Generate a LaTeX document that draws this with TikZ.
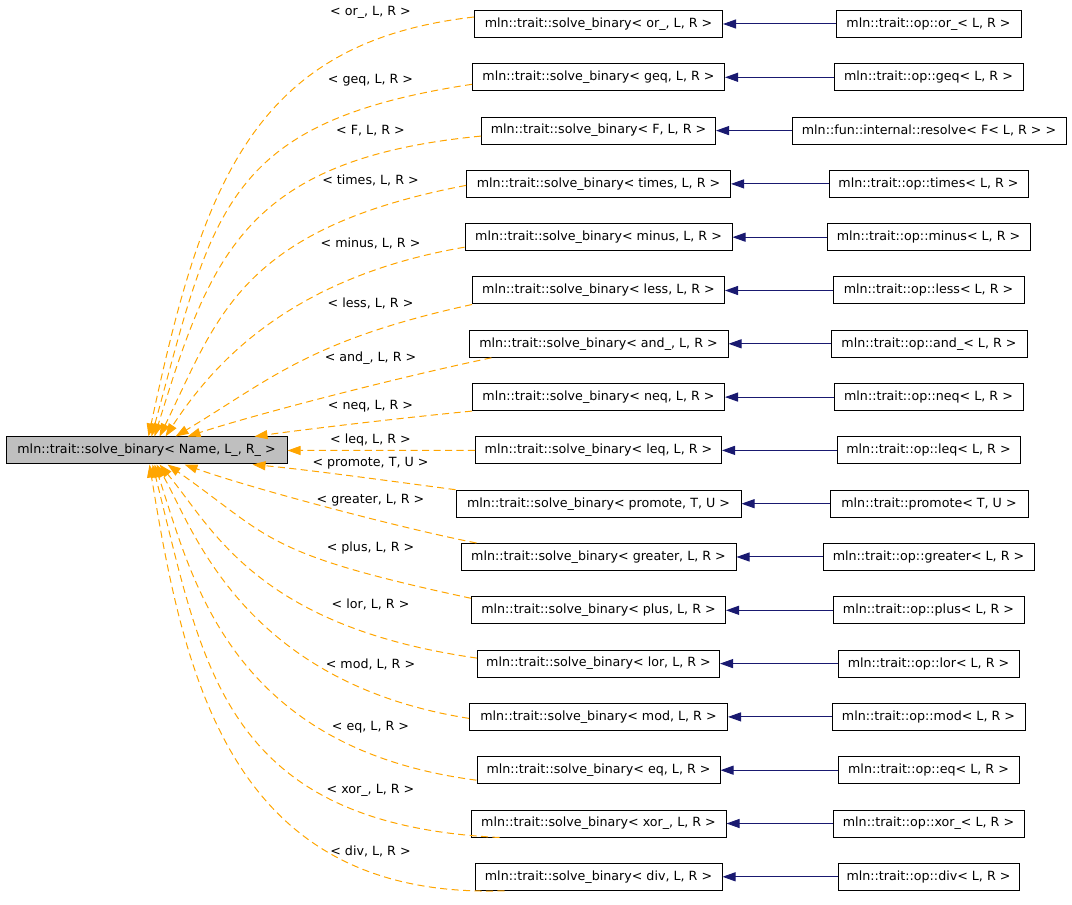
\documentclass[tikz,border=0pt]{standalone}
\usepackage{fontspec}
\setmainfont{DejaVu Sans}
\usetikzlibrary{arrows.meta,calc}
\definecolor{dorange}{HTML}{FFA500}
\definecolor{dnavy}{HTML}{191970}
\definecolor{rootgray}{HTML}{BFBFBF}
\begin{document}
\begin{tikzpicture}[x=0.75pt,y=-0.75pt,
  font=\fontsize{9.5pt}{11pt}\selectfont,
  box/.style={draw=black, line width=0.75pt, fill=white, minimum height=20.25pt,
    inner sep=0pt, minimum width=#1*0.75pt},
  lab/.style={inner sep=0pt},
  dep/.style={draw=dorange, line width=0.75pt, dash pattern=on 5.3pt off 3.3pt,
    -{Triangle[length=9.75pt,width=6.75pt]}},
  inh/.style={draw=dnavy, line width=0.75pt,
    -{Triangle[length=9.75pt,width=6.75pt]}}]
\useasboundingbox (0,0) rectangle (1072,905);

\node[box=281, fill=rootgray] (root) at (146.5,450.5) {mln::trait::solve\_binary< Name, L\_, R\_ >};

\foreach \i/\mw/\rw/\rx/\ly/\args/\rtext in {
 1/248/185/928.5/12/{or\_, L, R}/{mln::trait::op::or\_< L, R >},
 2/252/189/928.5/80/{geq, L, R}/{mln::trait::op::geq< L, R >},
 3/234/274/929/131/{F, L, R}/{mln::fun::internal::resolve< F< L, R > >},
 4/264/199/928.5/180/{times, L, R}/{mln::trait::op::times< L, R >},
 5/267/203/928.5/243/{minus, L, R}/{mln::trait::op::minus< L, R >},
 6/252/191/928.5/303/{less, L, R}/{mln::trait::op::less< L, R >},
 7/259/196/929/358/{and\_, L, R}/{mln::trait::op::and\_< L, R >},
 8/252/189/928.5/406/{neq, L, R}/{mln::trait::op::neq< L, R >},
 9/246/183/928.5/440/{leq, L, R}/{mln::trait::op::leq< L, R >},
 10/285/198/929/463/{promote, T, U}/{mln::trait::promote< T, U >},
 11/275/211/928.5/500/{greater, L, R}/{mln::trait::op::greater< L, R >},
 12/254/191/928.5/548/{plus, L, R}/{mln::trait::op::plus< L, R >},
 13/242/181/928.5/604/{lor, L, R}/{mln::trait::op::lor< L, R >},
 14/258/193/928.5/664/{mod, L, R}/{mln::trait::op::mod< L, R >},
 15/243/181/928.5/727/{eq, L, R}/{mln::trait::op::eq< L, R >},
 16/255/191/928.5/790/{xor\_, L, R}/{mln::trait::op::xor\_< L, R >},
 17/247/181/928.5/851/{div, L, R}/{mln::trait::op::div< L, R >}}
{
  \pgfmathsetmacro\yy{24+53.3*(\i-1)}
  \node[box=\mw] (m\i) at (598.5,\yy) {mln::trait::solve\_binary< \args{} >};
  \node[box=\rw] (r\i) at (\rx,\yy) {\rtext};
  \node[lab] (l\i) at (370.5,\ly) {< \args{} >};
  \draw[inh] (r\i) -- (m\i);
}

\draw[dep] ($(m1.west)+(0,-7)$) .. controls (255,42) and (203,180) .. ($(root.north west)+(143,0)$);
\draw[dep] ($(m2.west)+(0,7)$) .. controls (223,122) and (213,211) .. ($(root.north west)+(146,0)$);
\draw[dep] ($(m3.west)+(0,5.5)$) .. controls (243,159) and (210,258) .. ($(root.north west)+(149,0)$);
\draw[dep] ($(m4.west)+(0,1.5)$) .. controls (238.5,229) and (217.6,318.3) .. ($(root.north west)+(154,0)$);
\draw[dep] ($(m5.west)+(0,10)$) .. controls (284.6,278.3) and (210.4,368.4) .. ($(root.north west)+(160,0)$);
\draw[dep] (m6.south west) .. controls (311.3,339.7) and (271.4,378.6) .. ($(root.north west)+(170,0)$);
\draw[dep] ($(m7.south west)+(23,0)$) .. controls (400,377) and (260,413) .. ($(root.north west)+(182,0)$);
\draw[dep] (m8.south west) .. controls (400,418) and (300,430) .. ($(root.north west)+(249,0)$);
\draw[dep] (m9.west) -- (root.east);
\draw[dep] (m10.north west) .. controls (390,481) and (310,470) .. ($(root.south west)+(247,0)$);
\draw[dep] ($(m11.north west)+(16,0)$) .. controls (400,528) and (250,488) .. ($(root.south west)+(179,0)$);
\draw[dep] ($(m12.north west)+(0,2)$) .. controls (261.7,553.3) and (272.4,538) .. ($(root.south west)+(162,0)$);
\draw[dep] ($(m13.west)+(0,-5.5)$) .. controls (255.3,626.4) and (212.4,527.6) .. ($(root.south west)+(154,0)$);
\draw[dep] ($(m14.west)+(0,1.5)$) .. controls (239.4,681.8) and (191.6,524.2) .. ($(root.south west)+(151,0)$);
\draw[dep] ($(m15.west)+(0,10)$) .. controls (225.2,747.3) and (190.8,571.4) .. ($(root.south west)+(149,0)$);
\draw[dep] ($(m16.south west)+(29,0)$) .. controls (219.8,824) and (202.6,661.9) .. ($(root.south west)+(147,0)$);
\draw[dep] ($(m17.south west)+(30,0)$) .. controls (230,900) and (184,676) .. ($(root.south west)+(144,0)$);
\end{tikzpicture}
\end{document}
